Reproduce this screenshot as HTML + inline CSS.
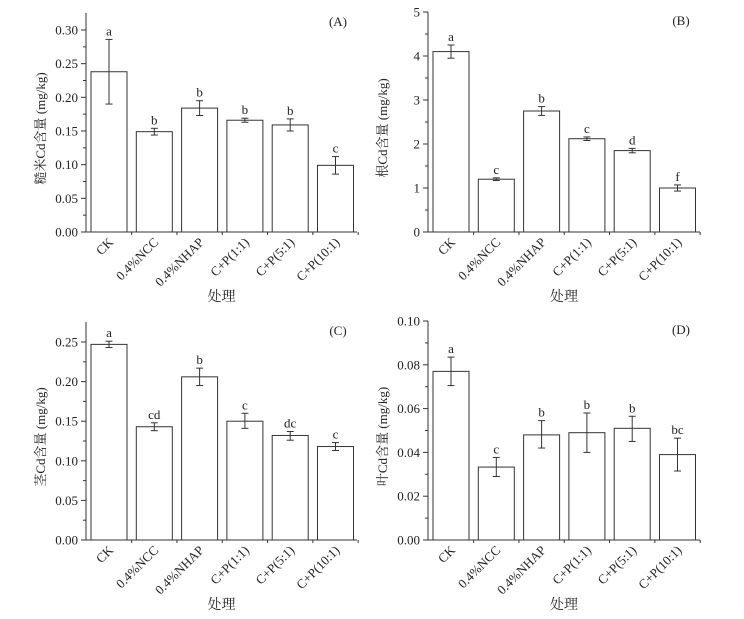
<!DOCTYPE html>
<html><head><meta charset="utf-8"><style>
body{margin:0;background:#fff;}
svg{display:block;font-family:"Liberation Serif","Noto Serif CJK SC",serif;}
</style></head><body>
<svg id="s" width="744" height="619" xmlns="http://www.w3.org/2000/svg"></svg>
<script>
const P=[
{l:86,r:357,y0:232,top:13,vt:0.30,yt:30,step:0.05,dec:2,n:6,lab:"(A)",yl:"糙米Cd含量 (mg/kg)",
 d:[[.238,.19,.286,"a"],[.149,.144,.154,"b"],[.184,.173,.195,"b"],[.166,.163,.169,"b"],[.159,.150,.168,"b"],[.099,.086,.112,"c"]]},
{l:428,r:700,y0:232,top:12,vt:5,yt:12,step:1,dec:0,n:5,lab:"(B)",yl:"根Cd含量 (mg/kg)",
 d:[[4.1,3.95,4.25,"a"],[1.2,1.17,1.23,"c"],[2.75,2.65,2.85,"b"],[2.12,2.08,2.16,"c"],[1.85,1.8,1.9,"d"],[1.0,0.93,1.07,"f"]]},
{l:86,r:357,y0:540,top:322,vt:0.25,yt:342,step:0.05,dec:2,n:5,lab:"(C)",yl:"茎Cd含量 (mg/kg)",
 d:[[.247,.243,.251,"a"],[.143,.138,.148,"cd"],[.206,.195,.217,"b"],[.150,.141,.160,"c"],[.132,.126,.137,"dc"],[.118,.113,.123,"c"]]},
{l:428,r:700,y0:540,top:321,vt:0.10,yt:321,step:0.02,dec:2,n:5,lab:"(D)",yl:"叶Cd含量 (mg/kg)",
 d:[[.077,.0705,.0835,"a"],[.0333,.029,.0377,"c"],[.048,.042,.0545,"b"],[.049,.040,.058,"b"],[.051,.045,.0565,"b"],[.039,.0315,.0465,"bc"]]}
];
const X=["CK","0.4%NCC","0.4%NHAP","C+P(1:1)","C+P(5:1)","C+P(10:1)"];
let h="";const st='stroke="#333" stroke-width="1" fill="none"';
for(const p of P){
 const k=(p.y0-p.yt)/p.vt, Y=v=>p.y0-v*k;
 h+=`<line x1="${p.l}" y1="${p.top}" x2="${p.l}" y2="${p.y0}" ${st}/><line x1="${p.l}" y1="${p.y0}" x2="${p.r}" y2="${p.y0}" ${st}/>`;
 for(let i=0;i<=p.n;i++){const v=i*p.step,y=Y(v);
  h+=`<line x1="${p.l-5}" y1="${y}" x2="${p.l}" y2="${y}" ${st}/>`;
  h+=`<text x="${p.l-8}" y="${y+4.5}" font-size="13" text-anchor="end" fill="#222">${v.toFixed(p.dec)}</text>`;
  if(i<p.n){const ym=Y(v+p.step/2);h+=`<line x1="${p.l-3}" y1="${ym}" x2="${p.l}" y2="${ym}" ${st}/>`;}
 }
 const pitch=45.3,w=36;
 p.d.forEach((d,i)=>{const x=p.l+5+i*pitch,c=x+w/2;
  h+=`<rect x="${x}" y="${Y(d[0])}" width="${w}" height="${p.y0-Y(d[0])}" ${st}/>`;
  h+=`<line x1="${c}" y1="${Y(d[1])}" x2="${c}" y2="${Y(d[2])}" ${st}/><line x1="${c-3.5}" y1="${Y(d[1])}" x2="${c+3.5}" y2="${Y(d[1])}" ${st}/><line x1="${c-3.5}" y1="${Y(d[2])}" x2="${c+3.5}" y2="${Y(d[2])}" ${st}/>`;
  h+=`<text x="${c}" y="${Y(d[2])-4}" font-size="13" text-anchor="middle" fill="#222">${d[3]}</text>`;
  h+=`<line x1="${c+pitch/2}" y1="${p.y0}" x2="${c+pitch/2}" y2="${p.y0+3}" ${st}/>`;
  h+=`<text transform="translate(${c+5},${p.y0+11}) rotate(-45)" font-size="13" text-anchor="end" fill="#222">${X[i]}</text>`;
 });
 const mx=(p.l+p.r)/2;
 h+=`<text x="${mx}" y="${p.y0+69}" font-size="14" text-anchor="middle" fill="#222">处理</text>`;
 h+=`<text x="${p.r-19}" y="${p.top+13}" font-size="13" text-anchor="middle" fill="#222">${p.lab}</text>`;
 h+=`<text transform="translate(${p.l-41},${(p.top+p.y0)/2+6}) rotate(-90)" font-size="13" text-anchor="middle" fill="#222">${p.yl}</text>`;
}
document.getElementById("s").innerHTML=h;
</script>
</body></html>
